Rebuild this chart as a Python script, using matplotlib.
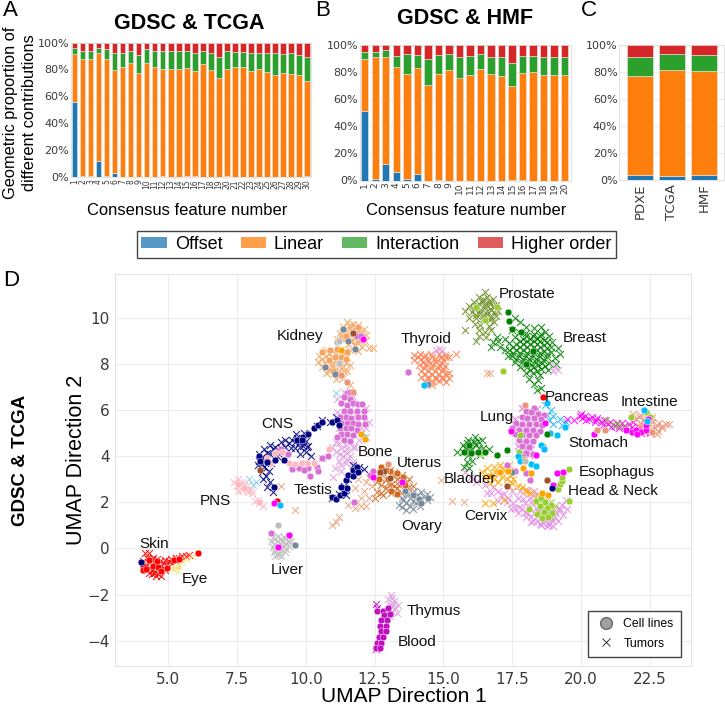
import matplotlib
matplotlib.use('Agg')
import matplotlib.pyplot as plt
from matplotlib.patches import Patch
from matplotlib.lines import Line2D

W, H = 725, 706

# stacked bar values (percent)
a_offset = [55.5,1,1,12,1,3.3,0,0,0,0,0,0.5,0,0,0.5,0.8,0,0,0,0.8,0.3,0,0,0,0,0,0,0,0.3,0.8]
a_linear = [36,87,86.5,80,86.5,76.2,81.5,84.5,77,84.5,82,79.5,80.5,80,80.5,77.7,84,79.5,73.5,79.2,81.2,81.5,79,80.5,78,75.5,77.5,76.5,75.2,70.7]
a_inter = [4.5,5.5,6,4,7.5,12.5,11,9.5,14,10.5,12,13.5,13,14,12.5,13.5,9.5,12.5,15.5,13.5,11.5,11.5,13,12,14,16.5,14,15.5,15,17.5]
a_higher = [4,6.5,6.5,4,5,8,7.5,6,9,5,6,6.5,6.5,6,6.5,8,6.5,8,11,6.5,7,7,8,7.5,8,8,8.5,8,9.5,11]

b_offset = [51,1,12,6.5,1,5,0,0.5,0,0,0,0,0,0,0.3,0.3,0,0,0,0]
b_linear = [38.5,90,79.5,77.5,77.5,78,70.5,78,81.5,76,78,82,78.5,77,69.2,78.7,80,78,77.5,77.5]
b_inter = [5.5,4,4.5,8,14.5,9.5,19.5,14,12,15,14,11,13,14.5,17.5,13,12,13.5,13.5,14]
b_higher = [5,5,4,8,7,7.5,10,7.5,6.5,9,8,7,8.5,8.5,13,8,8,8.5,9,8.5]

c_names = ['PDXE', 'TCGA', 'HMF']
c_offset = [3.5,2.3,3.7]
c_linear = [73.5,79,77]
c_inter = [14,12,11.7]
c_higher = [9,6.7,7.6]

# UMAP points, tumors first then cell lines
prostate_t = [(16.5,11.1),(16.3,10.9),(16.6,10.9),(16.8,10.8),(16.1,10.7),(16.4,10.7),(16.7,10.6),(16.9,10.55),(15.95,10.5),(16.2,10.5),(16.5,10.45),(16.75,10.35),(17.0,10.3),(15.8,10.3),(16.05,10.25),(16.35,10.2),(16.6,10.15),(16.9,10.1),(15.95,10.0),(16.2,10.0),(16.45,9.95),(16.7,9.9),(16.15,9.75),(16.35,9.7),(16.65,9.65),(16.85,9.8),(16.3,9.45),(16.5,9.4),(16.75,9.45),(16.3,9.2),(16.55,9.15),(16.2,9.0),(15.8,9.45),
              (16.45,10.8),(16.65,10.75),(16.3,10.6),(16.55,10.58),(16.8,10.5),(16.1,10.37),(16.35,10.35),(16.6,10.3),(16.85,10.25),(16.2,10.12),(16.45,10.08),(16.75,10.03)]
breast_t = [(17.6,10.0),(17.8,9.8),(18.0,9.6),(18.3,9.55),(18.55,9.6),(18.7,9.4),(17.5,9.45),(17.75,9.4),(18.0,9.35),(18.3,9.3),(18.55,9.3),(18.85,9.2),(17.6,9.15),(17.9,9.1),(18.15,9.1),(18.4,9.1),(18.65,9.05),(18.95,8.95),(17.4,8.9),(17.65,8.85),(17.9,8.85),(18.15,8.85),(18.4,8.85),(18.65,8.8),(18.9,8.75),(19.15,8.7),(17.4,8.6),(17.65,8.6),(17.9,8.6),(18.15,8.6),(18.4,8.6),(18.65,8.55),(18.9,8.5),(19.25,8.45),(17.5,8.35),(17.75,8.35),(18.0,8.35),(18.25,8.35),(18.5,8.35),(18.75,8.3),(19.05,8.25),(17.6,8.1),(17.85,8.1),(18.1,8.1),(18.35,8.1),(18.6,8.05),(18.85,8.05),(19.1,8.0),(17.8,7.85),(18.05,7.85),(18.3,7.85),(18.55,7.8),(18.8,7.75),(18.0,7.6),(18.25,7.6),(18.5,7.5),(18.1,7.35),(18.3,7.15),(18.45,7.3),(18.55,6.95),(18.4,6.85),(17.25,9.1),(17.0,9.0),(16.8,8.95),(17.05,8.75),(16.75,8.75),(17.25,8.6),(16.95,9.15),(17.35,8.35),
            (17.78,8.98),(18.03,8.98),(18.28,8.98),(18.53,8.98),(18.78,8.93),(17.53,8.73),(17.78,8.73),(18.03,8.73),(18.28,8.73),(18.53,8.73),(18.78,8.68),(17.53,8.48),(17.78,8.48),(18.03,8.48),(18.28,8.48),(18.53,8.48),(18.78,8.43),(17.63,8.23),(17.88,8.23),(18.13,8.23),(18.38,8.23),(18.63,8.18),(17.95,7.97),(18.2,7.97),(18.45,7.95),(18.7,7.92),(18.15,7.72),(18.4,7.7),(18.0,9.22),(18.25,9.22),(18.5,9.2)]
thyroid_t = [(13.95,8.4),(14.15,8.45),(14.35,8.4),(14.55,8.45),(14.85,8.45),(15.05,8.4),(15.2,8.3),(13.95,8.15),(14.2,8.2),(14.45,8.15),(14.75,8.2),(15.0,8.15),(14.1,7.95),(14.35,7.95),(14.6,7.95),(14.85,7.95),(15.05,7.9),(14.2,7.7),(14.45,7.7),(14.7,7.7),(14.95,7.7),(15.2,7.6),(14.2,7.45),(14.45,7.45),(14.7,7.45),(14.95,7.45),(15.2,7.4),(14.35,7.2),(14.6,7.2),(14.85,7.25),(15.1,7.2),(14.6,7.1),(15.45,8.45),
             (14.08,8.3),(14.3,8.3),(14.6,8.32),(14.9,8.3),(15.1,8.28),(14.25,8.07),(14.5,8.05),(14.75,8.07),(14.95,8.05),(14.3,7.83),(14.55,7.83),(14.8,7.83),(15.0,7.8),(14.33,7.58),(14.58,7.58),(14.83,7.58),(15.08,7.55),(14.45,7.33),(14.72,7.33),(14.98,7.33)]
kidney_t = [(11.5,9.8),(11.7,9.75),(11.9,9.7),(11.35,9.6),(11.6,9.55),(11.85,9.5),(12.1,9.5),(11.25,9.35),(11.5,9.3),(11.75,9.3),(12.0,9.3),(12.2,9.25),(11.15,9.1),(11.4,9.05),(11.65,9.05),(11.9,9.05),(12.15,9.0),(11.55,8.85),(11.8,8.8),(12.05,8.75),(12.3,8.7),(12.45,8.7),(11.6,8.6),(11.9,8.55),(10.75,8.6),(11.0,8.55),(11.25,8.6),(10.5,8.35),(10.75,8.35),(11.0,8.3),(11.25,8.3),(11.5,8.3),(10.45,8.1),(10.7,8.1),(10.95,8.05),(11.2,8.05),(11.45,8.05),(10.6,7.85),(10.85,7.8),(11.1,7.8),(11.35,7.85),(11.6,7.95),(10.75,7.6),(11.0,7.55),(11.25,7.55),(11.5,7.7),(11.1,7.35),(11.35,7.4),(11.6,7.1),
            (11.6,9.68),(11.8,9.62),(11.42,9.45),(11.68,9.42),(11.92,9.4),(11.3,9.2),(11.55,9.18),(11.8,9.17),(12.05,9.15),(11.65,8.95),(11.9,8.92),(10.85,8.45),(11.1,8.45),(11.35,8.45),(10.6,8.22),(10.85,8.2),(11.1,8.18),(11.35,8.18),(10.72,7.95),(10.97,7.93),(11.22,7.93),(10.9,7.68),(11.15,7.67),(11.38,7.68),(11.2,7.47)]
cns_t = [(8.3,4.1),(8.5,4.3),(8.7,4.5),(8.9,4.4),(8.3,3.8),(8.5,3.9),(8.7,4.1),(9.0,4.15),(8.25,3.6),(8.5,3.55),(8.75,3.7),(8.4,3.3),(8.65,3.35),(8.45,3.0),(8.7,2.9),(8.6,2.65),(8.8,2.45),(9.25,4.4),(9.5,4.7),(9.25,4.7),(9.6,4.35),(9.8,4.4),(9.85,4.8),(9.65,4.95),(9.95,5.0),(9.75,4.55),(10.0,4.65),(10.2,4.0),(10.0,4.2),(9.8,4.1),(10.4,5.3),(10.6,5.55),(9.45,4.35),(9.1,4.6),(10.1,4.45),(10.9,5.5),(11.1,5.7),
         (8.4,3.95),(8.6,4.15),(8.8,4.3),(8.4,3.65),(8.6,3.7),(9.6,4.6),(9.8,4.65),(9.9,4.45),(10.05,4.4),(9.7,4.8),(9.4,4.55),(9.1,4.35),(8.55,3.15),(8.95,4.0)]
bone_t = [(11.15,5.9),(11.2,5.2),(11.1,4.6),(11.3,4.35),(11.5,4.3),(11.1,4.2),(11.35,4.0),(11.6,4.0),(11.2,3.8),(11.45,3.7),(11.7,3.75),(11.05,3.5),(11.3,3.35),(11.0,3.1),(12.3,5.5),(12.2,6.1),(11.8,4.4),(11.95,4.7),(11.15,6.5),(12.2,4.85),(10.95,4.4),(11.4,6.8),(11.7,6.55),
          (11.2,4.55),(11.45,4.5),(11.25,4.1),(11.5,3.85),(11.3,3.6),(11.5,4.15),(11.7,4.4),(11.6,6.05),(11.8,5.8),(11.4,5.6),(11.7,5.3),(11.2,5.5),(12.0,5.2),(12.2,5.2),(14.85,8.65),(14.95,8.6),(14.75,8.6),(19.05,7.9),(19.15,7.75),(19.0,7.7)]
testis_t = [(10.95,2.2),(11.2,2.35),(11.4,2.7),(11.55,3.0),(11.75,3.3),(11.95,3.55),(11.7,3.6),(12.1,3.45),(11.45,2.3)]
mixed_t = [(11.9,3.0),(12.2,2.9),(12.1,2.5),(11.8,2.6),(12.4,2.7),(12.0,2.2),(12.3,3.1),(12.55,3.0),(11.55,1.9),(11.8,1.75),(12.0,1.85),(12.2,1.85),(10.95,1.0),(11.1,1.15),(11.2,1.35),(12.3,2.2),(15.3,2.05),(15.75,2.0),(14.9,2.95),(16.58,7.62),(16.7,7.6),(9.6,1.65),(10.6,3.9),(9.1,2.7)]
uterus_t = [(12.5,2.2),(12.8,2.3),(13.1,2.4),(13.3,2.6),(12.9,2.6),(12.6,2.45),(13.1,2.8),(13.3,3.0),(12.9,3.0),(13.55,2.85),(13.5,3.2),(13.2,3.3),(13.75,3.0),(12.6,2.9),(12.8,3.25),(13.7,2.6),(13.45,2.4),(13.9,2.7),(13.05,3.4),
            (12.75,2.4),(13.0,2.55),(13.2,2.7),(13.0,2.85),(13.2,3.15),(13.45,3.0),(12.75,2.75),(13.4,2.75),(12.7,3.1),(13.65,2.85)]
ovary_t = [(13.3,2.4),(13.5,2.2),(13.7,2.35),(13.95,2.5),(14.2,2.45),(14.4,2.35),(13.4,1.9),(13.65,1.95),(13.9,2.05),(14.15,2.1),(14.4,2.1),(13.65,1.65),(13.9,1.7),(14.15,1.85),(14.5,2.25),
           (13.55,2.08),(13.8,2.2),(14.05,2.3),(14.3,2.25),(13.78,1.82),(14.02,1.95),(13.5,1.8)]
pns_t = [(7.4,2.9),(7.55,3.0),(7.7,2.85),(7.85,2.7),(7.5,2.7),(7.7,2.55),(7.9,2.45),(8.05,2.4),(7.55,2.5),(8.15,2.05),(8.3,1.95),(8.45,1.85),(8.25,2.1),(7.6,2.75),(7.75,2.7),(7.6,2.9),(7.85,2.55),(8.0,2.55)]
pns_blue_t = [(7.95,3.0),(8.1,2.75),(8.2,2.9),(11.1,6.75)]
liver_t = [(8.8,0.5),(9.0,0.55),(9.2,0.5),(9.4,0.55),(8.75,0.3),(8.95,0.3),(9.15,0.3),(9.35,0.3),(8.8,0.05),(9.0,0.05),(9.2,0.1),(9.4,0.1),(8.85,-0.15),(9.05,-0.2),(9.25,-0.15),(8.9,-0.35),(9.1,-0.35),
           (8.9,0.42),(9.1,0.42),(9.3,0.42),(8.85,0.18),(9.05,0.18),(9.25,0.2),(9.45,0.3),(8.9,-0.05),(9.1,-0.05),(9.3,-0.03),(9.0,-0.27)]
skin_t = [(4.15,-0.2),(4.3,-0.2),(4.25,-0.4),(4.45,-0.4),(4.1,-0.55),(4.3,-0.6),(4.5,-0.6),(4.7,-0.55),(4.9,-0.5),(5.1,-0.45),(5.3,-0.4),(5.5,-0.35),(5.75,-0.3),(4.15,-0.8),(4.35,-0.85),(4.55,-0.8),(4.75,-0.75),(4.95,-0.7),(5.15,-0.65),(4.3,-1.05),(4.5,-1.05),(4.7,-1.0),(4.9,-0.95),(4.55,-1.2),(4.75,-1.2),
          (4.4,-0.5),(4.6,-0.48),(4.2,-0.7),(4.42,-0.7),(4.62,-0.68),(4.85,-0.62),(5.05,-0.55),(5.25,-0.52),(4.25,-0.93),(4.45,-0.93),(4.65,-0.9),(4.85,-0.83),(4.4,-1.12),(4.62,-1.12),(5.4,-0.42),(5.65,-0.33)]
eye_t = [(5.2,-0.9),(5.35,-0.75),(5.5,-0.6),(5.65,-0.45),(5.35,-1.0),(5.85,-0.35)]
thymus_t = [(13.1,-2.0),(13.0,-2.2),(13.2,-2.3),(13.35,-2.45),(13.05,-2.45),(13.25,-2.6),(13.15,-2.75),(13.3,-2.8),(13.05,-2.95),(13.15,-2.15),(13.15,-2.5),(13.0,-2.7),(13.2,-2.4)]
blood_t = [(12.55,-2.4),(12.6,-2.6),(12.55,-4.35),(12.65,-4.2)]
cervix_t = [(16.0,3.1),(15.8,3.3),(16.2,2.9),(16.5,2.75),(16.8,2.65),(16.6,2.4),(17.0,2.5),(17.2,2.35),(17.5,2.5),(17.0,2.05),(17.3,2.0),(17.55,1.95),(17.75,1.8),(17.95,1.6),(18.2,1.4),(17.45,1.7),(17.7,1.55),(18.0,1.35),(18.25,1.2),(18.5,1.05),(18.75,0.95),(19.0,0.95),(18.45,1.4),(18.7,1.25),(18.95,1.2),(19.15,1.2),(19.35,1.45),(19.5,1.7),(18.1,1.8),(18.35,1.75),(18.6,1.55),(18.85,1.5),(19.1,1.55),(19.3,1.9),(19.45,2.1),(17.9,2.15),(18.15,2.2),(17.8,2.5),(18.05,2.55),(18.3,2.5),
            (18.05,1.55),(18.3,1.55),(18.55,1.3),(18.8,1.1),(18.9,1.3),(17.6,1.75),(17.85,1.7),(18.4,1.2),(18.6,1.15),(19.05,1.35),(19.25,1.65),(18.85,1.0),(18.2,2.0),(18.45,1.6),(18.7,1.7),(19.0,1.75),(19.2,1.75),(17.95,1.95),(17.7,2.2),(18.3,2.3),(17.1,2.3),(17.35,2.2),(16.75,2.4),(18.55,1.0),(18.2,1.15)]
bladder_t = [(16.4,3.3),(16.6,3.5),(16.85,3.55),(17.05,3.6),(16.5,3.05),(16.75,3.15),(17.0,3.25),(17.25,3.4),(17.4,3.6),(16.7,2.85),(17.0,2.9),(17.3,3.0),(17.55,3.0),(17.7,2.7),(17.95,2.55),(18.15,2.4),(18.4,2.3),(17.4,2.7),(16.5,1.95),(16.8,1.95),(17.2,2.1),
             (16.62,3.2),(16.87,3.3),(17.12,3.45),(16.85,3.0),(17.15,3.1),(17.42,3.2),(17.5,2.85),(17.85,2.65),(18.05,2.45)]
neck_t = [(18.4,2.0),(18.65,2.1),(18.9,2.0),(18.55,1.8),(18.8,1.8),(19.05,1.85),(18.5,1.55),(18.75,1.55),(18.95,1.6),(18.7,1.35),(18.9,1.35)]
lung_t = [(17.6,5.6),(17.95,5.55),(18.25,5.8),(18.45,5.45),(17.65,5.05),(17.95,5.05),(18.25,5.0),(18.0,4.75),(17.7,4.45),(18.2,4.3),(17.85,6.1),(18.4,6.05),(17.7,5.3),(18.05,5.3),(18.3,5.55),(17.85,4.6),(18.1,4.6),(17.95,4.3),(18.1,4.05)]
pancreas_t = [(18.7,6.2),(18.9,6.0),(18.75,5.8),(19.0,5.75),(19.25,5.6),(19.0,5.4),(19.3,5.35),(18.85,5.55),(19.45,5.5)]
smallgreen_t = [(15.5,4.2),(15.7,4.5),(15.9,4.7),(16.15,4.85),(16.4,4.7),(16.65,4.3),(15.7,4.2),(15.95,4.4),(16.2,4.5),(16.45,4.35),(15.9,4.05),(16.15,4.15),(16.35,4.05),(16.05,3.8),(15.85,3.75),(15.95,3.5),(15.75,3.55),(16.1,4.6),(15.8,4.35),(15.85,4.55),(16.05,4.3),(16.3,4.35),(15.95,4.25),(16.25,4.65),(16.0,4.55)]
intestine_t = [(19.95,5.75),(20.15,5.75),(20.4,5.7),(20.6,5.65),(20.85,5.55),(21.05,5.5),(21.3,5.45),(21.5,5.45),(21.75,5.4),(20.2,5.55),(20.5,5.5),(20.8,5.35),(21.1,5.25),(21.4,5.2),(21.7,5.15),(22.0,5.1),(22.3,5.1),(21.9,5.5),(22.2,5.0),(22.5,5.0),(19.5,5.6),(19.75,5.55),
               (20.05,5.65),(20.3,5.62),(20.55,5.58),(20.75,5.5),(21.0,5.4),(21.25,5.32),(21.55,5.32),(21.85,5.25),(22.1,5.2),(20.0,5.85)]
stomach_t = [(21.9,5.85),(22.15,5.8),(22.4,5.75),(22.6,5.7),(22.0,5.6),(22.3,5.55),(22.6,5.5),(22.85,5.45),(23.1,5.4),(23.2,5.4),(22.1,5.3),(22.4,5.3),(22.7,5.2),(22.95,5.2),(22.5,5.05),(22.75,4.95),(22.3,5.05),
             (22.1,5.7),(22.35,5.65),(22.55,5.6),(22.15,5.45),(22.45,5.42),(22.75,5.35),(22.95,5.32),(22.25,5.2),(22.55,5.17),(22.8,5.1)]
olive_mid_t = [(20.9,5.55),(21.15,5.4),(21.4,5.3),(21.6,5.3),(21.3,5.4)]

kidney_c = [(10.6,8.5),(10.9,8.6),(10.7,7.9),(11.05,8.3),(11.3,8.3),(11.0,7.7),(11.25,8.0),(10.85,8.15),(11.45,8.2),(11.5,8.5),(11.15,8.65),(11.25,7.55),(11.7,9.3),(11.9,9.6),(11.45,9.2)]
cns_c = [(8.3,4.0),(8.35,3.8),(8.6,3.75),(8.9,3.85),(9.2,3.85),(9.7,4.7),(9.9,4.85),(10.1,4.95),(10.3,5.2),(10.45,5.35),(10.6,5.5),(10.95,5.5),(11.15,5.55),(11.2,5.35),(8.85,2.65),(9.85,4.7)]
testis_c = [(10.95,2.25),(11.1,2.15),(11.25,2.3),(11.4,2.4),(11.5,2.6),(11.3,2.65),(11.45,2.95),(11.55,3.2),(11.7,3.4),(11.85,3.55),(11.7,3.15),(11.9,3.3)]
pink_c = [(8.6,3.9),(8.9,4.15),(9.15,4.2),(8.75,3.7),(9.4,3.7),(9.6,3.65),(9.85,3.7),(10.05,3.7),(9.2,3.85),(10.3,3.7),(7.55,2.8),(7.75,2.6),(8.3,2.0),(10.85,4.3)]
orchid_c = [(9.1,4.3),(9.35,4.1),(9.5,3.45),(9.75,3.5),(10.1,3.5),(10.4,3.55),(10.45,3.35),(9.95,3.4),(10.15,3.15),(10.6,3.9),(10.8,4.0),(11.5,6.75),(11.6,6.8),(11.4,6.55),(11.6,6.5),(11.3,6.3),(11.5,6.2),(11.7,6.3),(11.9,6.25),(12.05,6.25),(11.4,5.95),(11.6,5.95),(11.85,5.95),(12.1,5.95),(11.25,5.7),(11.45,5.7),(11.65,5.65),(11.9,5.7),(12.1,5.7),(11.3,5.45),(11.5,5.45),(11.7,5.45),(11.9,5.4),(12.15,5.4),(11.25,5.2),(11.45,5.2),(11.65,5.2),(11.85,5.15),(11.3,4.95),(11.5,4.95),(11.7,4.9),(11.15,4.85),(11.4,4.7),(11.6,4.65),(12.35,3.2),(12.45,3.35),(8.75,0.65),(11.85,9.2),(12.0,9.2),(11.75,2.0),(17.3,3.6)]
lung_c = [(18.3,6.1),(18.0,5.95),(18.2,5.9),(18.45,5.85),(18.65,5.8),(17.85,5.7),(18.05,5.65),(18.3,5.65),(18.55,5.6),(17.65,5.45),(17.85,5.4),(18.1,5.4),(18.35,5.4),(18.6,5.35),(17.5,5.2),(17.75,5.15),(18.0,5.15),(18.25,5.15),(18.5,5.1),(17.6,4.95),(17.85,4.9),(18.1,4.9),(18.35,4.9),(17.75,4.7),(18.0,4.65),(18.25,4.65),(17.85,4.45),(18.1,4.4),(17.75,4.2),(18.0,4.15),(18.25,4.1),(17.9,3.95),(13.73,7.67),(17.6,3.35),(18.0,3.25),(18.15,2.95)]
uterus_c = [(13.0,3.0),(13.3,3.25),(13.55,3.1),(13.6,2.75),(13.3,2.35),(13.1,2.5),(12.65,3.0),(13.05,3.35),(12.9,3.4),(12.75,3.55)]
ovary_c = [(13.9,2.3),(14.1,2.15),(14.45,2.2),(14.2,1.95),(13.6,2.5),(11.35,9.5),(11.55,8.98),(11.8,8.65),(10.7,7.85),(11.05,7.55),(9.6,0.15),(14.45,7.13),(17.5,3.3)]
skin_c = [(4.1,-0.75),(4.3,-0.5),(4.45,-0.75),(4.65,-0.8),(4.75,-1.0),(4.6,-0.55),(4.95,-0.85),(5.2,-0.5),(5.4,-0.45),(6.1,-0.2),(4.1,-0.95),(4.2,-0.9),(8.95,2.05)]
eye_c = [(5.2,-0.85),(5.35,-0.8)]
blood_c = [(12.6,-2.7),(12.8,-2.7),(13.0,-2.6),(12.85,-2.9),(13.05,-2.85),(12.75,-3.1),(12.95,-3.1),(12.7,-3.35),(12.9,-3.35),(12.75,-3.6),(12.9,-3.6),(12.65,-3.85),(12.8,-3.85),(12.6,-4.1),(12.75,-4.1),(12.55,-4.3),(12.7,-4.3)]
neck_c = [(18.35,2.05),(18.55,2.2),(18.7,2.0),(18.9,1.9),(18.5,1.85),(18.75,1.75),(18.95,1.55),(18.65,1.6),(18.4,1.5),(18.6,1.3),(18.8,1.35),(18.1,1.7),(19.57,2.06),(19.15,2.57),(19.25,2.78),(19.33,2.93),(19.3,3.1),(19.55,3.46),(17.8,4.93),(18.63,4.45),(17.75,4.2),(17.9,3.87),(17.18,7.68),(21.82,5.72),(22.37,5.9),(22.52,5.7),(16.35,4.15)]
magenta_c = [(19.13,3.29),(19.36,3.32),(18.99,2.75),(17.45,5.07),(18.7,5.42),(18.36,4.06),(20.48,4.96),(21.65,5.15),(21.85,5.05),(22.0,5.15),(22.2,5.05),(22.35,5.15),(22.35,5.35),(22.45,5.6),(22.05,4.95),(12.08,9.1),(9.4,0.6),(9.0,0.05),(8.85,1.95),(13.5,2.9),(12.45,3.1)]
sky_c = [(18.75,6.3),(19.42,5.25),(19.13,4.93),(18.88,5.0),(18.54,4.5),(18.66,4.3),(17.7,3.99),(17.78,3.77),(18.2,3.68),(18.36,3.58),(22.28,6.0),(22.4,5.54),(9.05,1.9),(12.1,4.85),(14.3,7.09)]
bladder_c = [(16.75,3.15),(17.05,3.3),(17.35,3.35),(17.9,3.5),(18.2,3.25),(18.6,2.4),(18.8,2.3),(11.3,8.6),(12.0,4.95),(12.15,4.75)]
green_c = [(15.75,4.2),(16.0,4.15),(16.25,4.2),(15.95,4.5),(16.5,4.2),(17.35,10.25),(17.37,9.85),(17.5,9.52),(17.82,9.38),(18.75,4.96),(17.33,4.28),(16.95,4.04),(18.0,8.0),(18.25,8.55)]
olive_c = [(16.2,10.45),(16.95,10.45),(16.5,9.9)]
salmon_c = [(20.58,5.13),(20.87,5.13),(22.6,5.06),(17.95,6.2),(11.3,7.5),(11.5,7.2),(11.7,6.8),(13.0,3.65)]
brown_c = [(11.7,9.35),(18.75,2.96),(17.3,2.7),(12.85,3.35),(13.05,3.05),(12.7,3.3),(8.35,3.4)]
grey_c = [(11.15,8.95),(11.2,9.0),(11.2,8.05),(9.0,1.0),(17.95,3.8)]
red_c = [(18.63,6.55)]
navy_c = [(4.0,-0.6),(18.94,2.64)]

tissue_labels = ['Kidney','CNS','PNS','Testis','Skin','Bone','Thyroid','Prostate','Breast','Pancreas','Intestine','Lung','Stomach','Uterus','Bladder','Esophagus','Head & Neck','Cervix','Ovary','Eye','Liver','Thymus','Blood']
label_x = [9.8,8.96,6.71,10.27,4.49,12.53,14.38,18.05,20.13,19.87,22.49,16.93,20.64,14.13,15.98,21.29,21.18,16.56,14.2,5.98,9.33,14.67,14.05]
label_y = [9.19,5.38,2.07,2.55,0.2,4.2,9.07,11.03,9.12,6.55,6.33,5.72,4.55,3.72,2.99,3.33,2.51,1.42,0.99,-1.32,-0.93,-2.71,-4.06]

colors = ['#1f77b4', '#ff7f0e', '#2ca02c', '#d62728']
names = ['Offset', 'Linear', 'Interaction', 'Higher order']
SANS = 'Liberation Sans'
GRID = '#ececec'
TICK = '#3a3a3a'

plt.rcParams['font.family'] = ['DejaVu Sans']
fig = plt.figure(figsize=(W / 100, H / 100), dpi=100)


def box(left, top, right, bottom):
    return [left / W, 1 - bottom / H, (right - left) / W, (bottom - top) / H]


def fx(px):
    return px / W


def fy(py):
    return 1 - py / H


def stacked(ax, series, width, labels, xlim):
    xs = list(range(len(labels)))
    bottom = [0] * len(labels)
    for vals, col in zip(series, colors):
        ax.bar(xs, vals, width, bottom=bottom, color=col, edgecolor='#e9e9e9', linewidth=0.4, zorder=3)
        bottom = [b + v for b, v in zip(bottom, vals)]
    ax.set_xlim(*xlim)
    ax.set_ylim(0, 100)
    ax.set_xticks(xs)
    ax.set_xticklabels(labels)
    ax.set_yticks([0, 20, 40, 60, 80, 100])
    ax.set_yticklabels(['0%', '20%', '40%', '60%', '80%', '100%'])
    ax.grid(True, color=GRID, linewidth=0.8, zorder=0)
    ax.tick_params(length=0, colors=TICK)
    for s in ax.spines.values():
        s.set_color('#e4e4e4')
        s.set_linewidth(0.8)


# panel A
ax_a = fig.add_axes(box(70.5, 42.5, 311, 177))
stacked(ax_a, [a_offset, a_linear, a_inter, a_higher], 0.7, [str(i) for i in range(1, 31)], (-0.5, 29.5))
ax_a.tick_params(axis='x', labelsize=5.5, labelrotation=90, pad=1.5)
ax_a.tick_params(axis='y', labelsize=8, pad=1)
ax_a.set_title('GDSC & TCGA', family=SANS, fontweight='bold', fontsize=15.5, x=(189 - 70.5) / 240.5, pad=10)
ax_a.set_xlabel('Consensus feature number', family=SANS, fontsize=11.9)
ax_a.xaxis.set_label_coords(fx(187), fy(210.5), transform=fig.transFigure)
ax_a.xaxis.label.set_va('center')
ax_a.set_ylabel('Geometric proportion of\ndifferent contributions', family=SANS, fontsize=11.8, linespacing=1.25)
ax_a.yaxis.set_label_coords(fx(20), fy(113), transform=fig.transFigure)
ax_a.yaxis.label.set_va('center')

# panel B
ax_b = fig.add_axes(box(359.5, 45, 571, 180.5))
stacked(ax_b, [b_offset, b_linear, b_inter, b_higher], 0.7, [str(i) for i in range(1, 21)], (-0.5, 19.6))
ax_b.tick_params(axis='x', labelsize=6.5, labelrotation=90, pad=1.5)
ax_b.tick_params(axis='y', labelsize=8, pad=1)
ax_b.set_title('GDSC & HMF', family=SANS, fontweight='bold', fontsize=15.5, x=(465 - 359.5) / 211.5, pad=15)
ax_b.set_xlabel('Consensus feature number', family=SANS, fontsize=11.9)
ax_b.xaxis.set_label_coords(fx(466), fy(210.5), transform=fig.transFigure)
ax_b.xaxis.label.set_va('center')

# panel C
ax_c = fig.add_axes(box(619, 45, 724, 179.5))
stacked(ax_c, [c_offset, c_linear, c_inter, c_higher], 0.8, c_names, (-0.65, 2.63))
ax_c.tick_params(axis='x', labelsize=9.5, labelrotation=90, pad=3)
ax_c.tick_params(axis='y', labelsize=8, pad=1)

for letter, px, py in [('A', 3, 11), ('B', 315, 10), ('C', 581, 10), ('D', 3, 280)]:
    fig.text(fx(px), fy(py), letter, family=SANS, fontsize=16, va='center', ha='left')

# shared legend
handles = [Patch(facecolor=c, alpha=0.75, edgecolor='none') for c in colors]
leg = fig.legend(handles, names, ncols=4, loc='center', bbox_to_anchor=(fx(376.5), fy(244.5)),
                 prop={'family': SANS, 'size': 13}, frameon=True, fancybox=False, edgecolor='#444444',
                 framealpha=1, handlelength=1.4, handleheight=0.5, columnspacing=1.0, handletextpad=0.45,
                 borderpad=0.25, borderaxespad=0)
leg.get_frame().set_linewidth(1.0)

# panel D
ax_d = fig.add_axes(box(115, 274, 691, 666))
ax_d.set_xlim(3.07, 24.0)
ax_d.set_ylim(-5.1, 11.9)
ax_d.grid(True, color=GRID, linewidth=0.8, zorder=0)
ax_d.set_axisbelow(True)
ax_d.set_xticks([5, 7.5, 10, 12.5, 15, 17.5, 20, 22.5])
ax_d.set_xticklabels(['5.0', '7.5', '10.0', '12.5', '15.0', '17.5', '20.0', '22.5'])
ax_d.set_yticks([-4, -2, 0, 2, 4, 6, 8, 10])
ax_d.set_yticklabels(['\u22124', '\u22122', '0', '2', '4', '6', '8', '10'])
ax_d.tick_params(length=0, labelsize=11, colors=TICK, pad=4)
for s in ax_d.spines.values():
    s.set_color('#e4e4e4')


def tumors(pts, col):
    ax_d.scatter([p[0] for p in pts], [p[1] for p in pts], marker='x', s=25, c=col, linewidths=0.8, alpha=0.85, zorder=2)


def lines(pts, col):
    ax_d.scatter([p[0] for p in pts], [p[1] for p in pts], marker='o', s=24, c=col, edgecolors='white', linewidths=0.3, zorder=3)


tumors(cervix_t, '#e58ce5')
tumors(bladder_t, '#ffa500')
tumors(neck_t, '#9acd32')
tumors(lung_t, '#da70d6')
tumors(pancreas_t, '#20b8f0')
tumors(prostate_t, '#6b8e23')
tumors(breast_t, '#008000')
tumors(smallgreen_t, '#008000')
tumors(thyroid_t, '#ff7f50')
tumors(kidney_t, '#f4a460')
tumors(bone_t, '#e19be0')
tumors(cns_t, '#000080')
tumors(testis_t, '#000080')
tumors(mixed_t, '#e9a27c')
tumors(uterus_t, '#d2691e')
tumors(ovary_t, '#778899')
tumors(pns_t, '#ffb6c1')
tumors(pns_blue_t, '#87ceeb')
tumors(liver_t, '#bdbdbd')
tumors(skin_t, '#ff0000')
tumors(eye_t, '#f0e68c')
tumors(thymus_t, '#dda0dd')
tumors(blood_t, '#bf10bf')
tumors(intestine_t, '#ff00ff')
tumors(stomach_t, '#e9967a')
tumors(olive_mid_t, '#8aa84a')

lines(kidney_c, '#f4a460')
lines(orchid_c, '#da70d6')
lines(lung_c, '#da70d6')
lines(pink_c, '#ffb6c1')
lines(cns_c, '#000080')
lines(testis_c, '#000080')
lines(uterus_c, '#d2691e')
lines(ovary_c, '#778899')
lines(skin_c, '#ff0000')
lines(eye_c, '#f0e68c')
lines(blood_c, '#bf10bf')
lines(neck_c, '#9acd32')
lines(magenta_c, '#ff00ff')
lines(sky_c, '#00bfff')
lines(bladder_c, '#ffa500')
lines(green_c, '#008000')
lines(olive_c, '#9acd32')
lines(salmon_c, '#e9967a')
lines(brown_c, '#a0522d')
lines(grey_c, '#bdbdbd')
lines(red_c, '#ff0000')
lines(navy_c, '#000080')

for name, lx, ly in zip(tissue_labels, label_x, label_y):
    ax_d.text(lx, ly, name, family=SANS, fontsize=11, ha='center', va='center', color='#111111', zorder=5)

ax_d.set_xlabel('UMAP Direction 1', family=SANS, fontsize=15)
ax_d.xaxis.set_label_coords(fx(404), fy(696.5), transform=fig.transFigure)
ax_d.xaxis.label.set_va('center')
ax_d.set_ylabel('UMAP Direction 2', family=SANS, fontsize=15.5)
ax_d.yaxis.set_label_coords(fx(77), fy(460), transform=fig.transFigure)
ax_d.yaxis.label.set_va('center')
fig.text(fx(21), fy(460), 'GDSC & TCGA', family=SANS, fontweight='bold', fontsize=13.5, rotation=90, va='center', ha='center')

kinds = [Line2D([], [], marker='o', linestyle='', markerfacecolor='#a0a0a0', markeredgecolor='#666666', markersize=8.5),
         Line2D([], [], marker='x', linestyle='', color='#333333', markersize=6, markeredgewidth=0.7)]
leg_d = ax_d.legend(kinds, ['Cell lines', 'Tumors'], loc='lower right', bbox_to_anchor=(0.9826, 0.023),
                    prop={'family': SANS, 'size': 8.8}, fancybox=False, framealpha=1, edgecolor='#444444',
                    borderpad=0.6, labelspacing=0.6, borderaxespad=0, handletextpad=0.6, handlelength=1.7)
leg_d.set_zorder(6)

fig.savefig('out.png', dpi=100)
